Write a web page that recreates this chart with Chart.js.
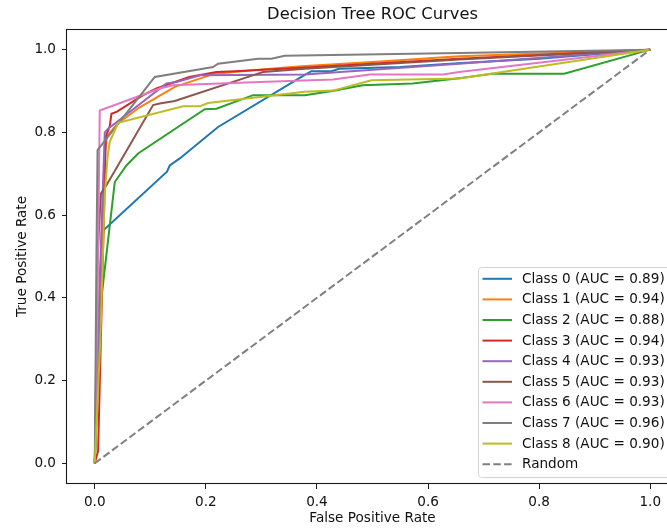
<!DOCTYPE html>
<html>
<head>
<meta charset="utf-8">
<script src="https://cdn.jsdelivr.net/npm/chart.js"></script>
<style>
  html, body { margin: 0; padding: 0; background: #fff; overflow: hidden; }
  #wrap { width: 690px; height: 529px; }
</style>
</head>
<body>
<div id="wrap"><canvas id="roc" width="690" height="529"></canvas></div>
<script>
// ROC points, one pair of arrays per class
const fpr0 = [0, 0.008, 0.012, 0.017, 0.13, 0.135, 0.153, 0.204, 0.222, 0.372, 0.39, 0.426, 0.44, 0.55, 0.66, 0.8, 1];
const tpr0 = [0, 0.3, 0.54, 0.565, 0.705, 0.72, 0.737, 0.793, 0.813, 0.934, 0.948, 0.948, 0.954, 0.958, 0.968, 0.978, 1];
const fpr1 = [0, 0.006, 0.018, 0.022, 0.04, 0.08, 0.144, 0.216, 0.3, 0.372, 0.5, 0.656, 1];
const tpr1 = [0, 0.3, 0.75, 0.79, 0.82, 0.86, 0.91, 0.942, 0.952, 0.96, 0.97, 0.984, 1];
const fpr2 = [0, 0.008, 0.012, 0.036, 0.057, 0.078, 0.198, 0.219, 0.285, 0.378, 0.428, 0.482, 0.572, 0.656, 0.716, 0.845, 1];
const tpr2 = [0, 0.3, 0.4, 0.68, 0.72, 0.749, 0.856, 0.857, 0.89, 0.89, 0.9, 0.914, 0.918, 0.931, 0.942, 0.942, 1];
const fpr3 = [0, 0.006, 0.02, 0.027, 0.03, 0.04, 0.087, 0.111, 0.17, 0.219, 0.252, 0.372, 0.656, 1];
const tpr3 = [0, 0.03, 0.79, 0.815, 0.845, 0.85, 0.89, 0.906, 0.934, 0.946, 0.948, 0.956, 0.978, 1];
const fpr4 = [0, 0.008, 0.018, 0.024, 0.129, 0.147, 0.19, 0.378, 0.656, 1];
const tpr4 = [0, 0.4, 0.8, 0.809, 0.918, 0.922, 0.938, 0.94, 0.966, 1];
const fpr5 = [0, 0.005, 0.011, 0.021, 0.105, 0.117, 0.144, 0.294, 0.303, 0.378, 0.656, 1];
const tpr5 = [0, 0.5, 0.652, 0.672, 0.866, 0.87, 0.876, 0.942, 0.946, 0.954, 0.976, 1];
const fpr6 = [0, 0.004, 0.009, 0.117, 0.141, 0.297, 0.429, 0.495, 0.627, 0.656, 1];
const tpr6 = [0, 0.3, 0.853, 0.906, 0.914, 0.922, 0.928, 0.94, 0.94, 0.946, 1];
const fpr7 = [0, 0.003, 0.005, 0.108, 0.213, 0.222, 0.294, 0.318, 0.342, 0.656, 1];
const tpr7 = [0, 0.5, 0.757, 0.934, 0.958, 0.966, 0.978, 0.978, 0.985, 0.992, 1];
const fpr8 = [0, 0.01, 0.018, 0.023, 0.027, 0.042, 0.159, 0.189, 0.204, 0.378, 0.429, 0.498, 0.656, 1];
const tpr8 = [0, 0.3, 0.65, 0.74, 0.777, 0.823, 0.863, 0.863, 0.871, 0.898, 0.901, 0.926, 0.93, 1];
const randomX = [0, 1];
const randomY = [0, 1];

const classNames = ['Class 0', 'Class 1', 'Class 2', 'Class 3', 'Class 4', 'Class 5', 'Class 6', 'Class 7', 'Class 8'];
const aucValues = [0.89, 0.94, 0.88, 0.94, 0.93, 0.93, 0.93, 0.96, 0.90];
const xTicks = [0, 0.2, 0.4, 0.6, 0.8, 1.0];
const yTicks = [0, 0.2, 0.4, 0.6, 0.8, 1.0];

const fprs = [fpr0, fpr1, fpr2, fpr3, fpr4, fpr5, fpr6, fpr7, fpr8];
const tprs = [tpr0, tpr1, tpr2, tpr3, tpr4, tpr5, tpr6, tpr7, tpr8];
const colors = ['#1f77b4', '#ff7f0e', '#2ca02c', '#d62728', '#9467bd', '#8c564b', '#e377c2', '#7f7f7f', '#bcbd22'];

const FONT = "'DejaVu Sans', sans-serif";
const FS = 13.6;
const toPoints = (xs, ys) => xs.map((x, i) => ({ x: x, y: ys[i] }));

const datasets = classNames.map((name, i) => ({
  label: name + ' (AUC = ' + aucValues[i].toFixed(2) + ')',
  data: toPoints(fprs[i], tprs[i]),
  borderColor: colors[i],
  borderWidth: 2,
  order: -i
}));
datasets.push({
  label: 'Random',
  data: toPoints(randomX, randomY),
  borderColor: '#808080',
  borderWidth: 2,
  borderDash: [7.5, 3.3],
  order: -20
});

// axes frame + matplotlib style legend in the lower right corner
const frameAndLegend = {
  id: 'frameAndLegend',
  afterDraw(chart) {
    const ctx = chart.ctx;
    const a = chart.chartArea;
    ctx.save();
    ctx.strokeStyle = '#1a1a1a';
    ctx.lineWidth = 1.1;
    ctx.strokeRect(Math.round(a.left) - 0.5, Math.round(a.top) + 0.5,
      Math.round(a.right - a.left) + 1, Math.round(a.bottom - a.top) - 1);

    const sets = chart.data.datasets;
    const w = 193, h = 210;
    const x0 = a.right - 7 - w;
    const y0 = a.bottom - 7 - h;
    ctx.beginPath();
    ctx.roundRect(x0 + 0.5, y0 + 0.5, w, h, 3);
    ctx.fillStyle = 'rgba(255,255,255,0.8)';
    ctx.fill();
    ctx.strokeStyle = '#d3d3d3';
    ctx.lineWidth = 1;
    ctx.stroke();

    ctx.font = FS + 'px ' + FONT;
    ctx.textBaseline = 'middle';
    ctx.textAlign = 'left';
    sets.forEach((ds, i) => {
      const cy = y0 + 11.8 + i * 20.6;
      ctx.beginPath();
      ctx.setLineDash(ds.borderDash || []);
      ctx.strokeStyle = ds.borderColor;
      ctx.lineWidth = ds.borderWidth;
      ctx.moveTo(x0 + 4.5, cy);
      ctx.lineTo(x0 + 34, cy);
      ctx.stroke();
      ctx.setLineDash([]);
      ctx.fillStyle = '#111';
      ctx.fillText(ds.label, x0 + 44, cy + 0.5);
    });
    ctx.restore();
  }
};

const ctx = document.getElementById('roc');
const rocChart = new Chart(ctx, {
  type: 'line',
  data: { datasets: datasets },
  options: {
    responsive: false,
    animation: false,
    devicePixelRatio: 1,
    layout: { padding: { left: 0, right: 12, top: 0, bottom: 0 } },
    elements: { point: { radius: 0 }, line: { tension: 0 } },
    plugins: {
      legend: { display: false },
      tooltip: { enabled: false },
      title: {
        display: true,
        fullSize: false,
        text: 'Decision Tree ROC Curves',
        color: '#111',
        font: { family: FONT, size: 16.3, weight: 'normal', lineHeight: 1.2 },
        padding: { top: 5.2, bottom: 4.2 }
      }
    },
    scales: {
      x: {
        type: 'linear',
        min: -0.05,
        max: 1.05,
        afterFit: (s) => { s.height = 45; },
        afterBuildTicks: (s) => { s.ticks = xTicks.map(v => ({ value: v })); },
        grid: { display: true, drawOnChartArea: false, tickLength: 5, tickColor: '#1a1a1a' },
        border: { display: false },
        ticks: {
          color: '#111', padding: 5, maxRotation: 0,
          font: { family: FONT, size: FS },
          callback: (v) => v.toFixed(1)
        },
        title: {
          display: true, text: 'False Positive Rate', color: '#111',
          font: { family: FONT, size: FS, lineHeight: 1.2 },
          padding: { top: 2, bottom: 2.5 }
        }
      },
      y: {
        type: 'linear',
        min: -0.05,
        max: 1.05,
        afterFit: (s) => { s.width = 67; },
        afterBuildTicks: (s) => { s.ticks = yTicks.map(v => ({ value: v })); },
        grid: { display: true, drawOnChartArea: false, tickLength: 5, tickColor: '#1a1a1a' },
        border: { display: false },
        ticks: {
          color: '#111', padding: 6,
          font: { family: FONT, size: FS },
          callback: (v) => v.toFixed(1)
        },
        title: {
          display: true, text: 'True Positive Rate', color: '#111',
          font: { family: FONT, size: FS, lineHeight: 1.2 },
          padding: { top: 14, bottom: 2 }
        }
      }
    }
  },
  plugins: [frameAndLegend]
});
</script>
</body>
</html>
